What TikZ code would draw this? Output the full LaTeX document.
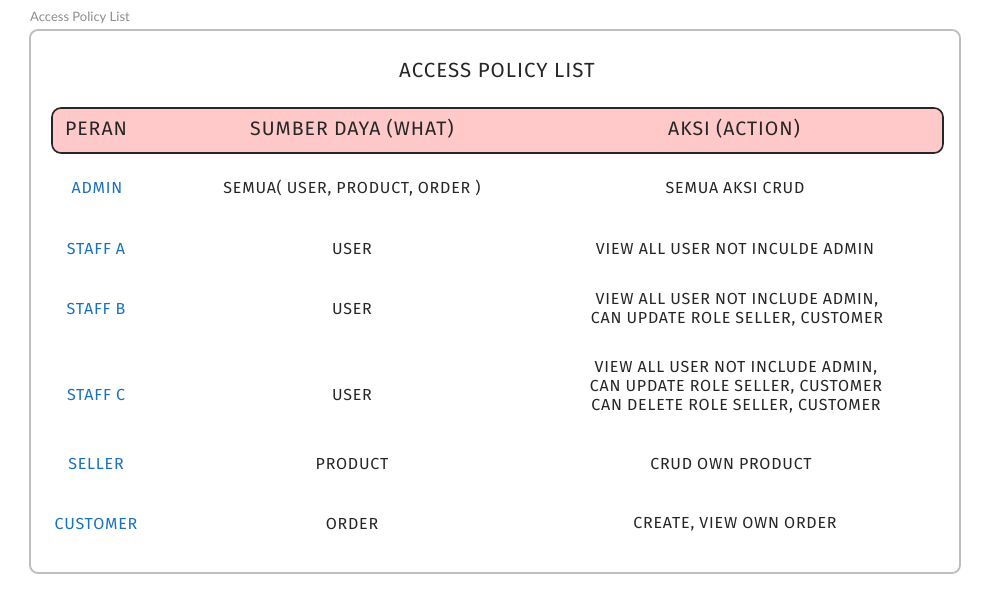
\documentclass[tikz,border=0pt]{standalone}
\usepackage{fontspec}
\setmainfont{Fira Sans}
\newfontfamily\handfont[LetterSpace=5]{Fira Sans}
\newfontfamily\uifont{Lato}
\usepackage{tikz}
\definecolor{framegray}{RGB}{190, 190, 190}
\definecolor{labelgray}{RGB}{140, 140, 140}
\definecolor{headpink}{RGB}{255, 201, 201}
\definecolor{roleblue}{RGB}{25, 113, 194}
\tikzset{
	cell/.style={font=\handfont\fontsize{16}{19}\selectfont, text=black!85, align=center, inner sep=0pt},
	role/.style={cell, text=roleblue},
	head/.style={font=\handfont\fontsize{19.5}{22}\selectfont, text=black!85, inner sep=0pt}
}

\begin{document}
\begin{tikzpicture}[x=1pt, y=-1pt]
			\useasboundingbox (0,0) rectangle (996,602);
			\node[font=\uifont\fontsize{13}{15}\selectfont, text=labelgray, anchor=west, inner sep=0pt] (frametitle) at (30,18) {Access Policy List};
			\draw[framegray, line width=1.8pt, rounded corners=8pt] (30,30) rectangle (960,573);

			\node[head, font=\handfont\fontsize{20.5}{23}\selectfont] (title) at (497,70) {ACCESS POLICY LIST};

			\draw[black!85, line width=1.6pt, fill=headpink, rounded corners=9pt] (52,108) rectangle (943,153);
			\node[head] (hperan) at (96,129) {PERAN};
			\node[head] (hsumber) at (352,129) {SUMBER DAYA (WHAT)};
			\node[head] (haksi) at (734,129) {AKSI (ACTION)};

			% baris peran
			\node[role] (admin) at (97,188) {ADMIN};
			\node[role] (staffa) at (96,249) {STAFF A};
			\node[role] (staffb) at (96,309) {STAFF B};
			\node[role] (staffc) at (96,395) {STAFF C};
			\node[role] (seller) at (96,464) {SELLER};
			\node[role] (customer) at (96,524) {CUSTOMER};

			\node[cell] (resadmin) at (352,188) {SEMUA( USER, PRODUCT, ORDER )};
			\node[cell] (resstaffa) at (352,249) {USER};
			\node[cell] (resstaffb) at (352,309) {USER};
			\node[cell] (resstaffc) at (352,395) {USER};
			\node[cell] (resseller) at (352,464) {PRODUCT};
			\node[cell] (rescustomer) at (352,524) {ORDER};

			\node[cell] (actadmin) at (735,188) {SEMUA AKSI CRUD};
			\node[cell] (actstaffa) at (735,249) {VIEW ALL USER NOT INCULDE ADMIN};
			\node[cell] (actstaffb) at (737,310) {VIEW ALL USER NOT INCLUDE ADMIN,\\CAN UPDATE ROLE SELLER, CUSTOMER};
			\node[cell] (actstaffc) at (736,387) {VIEW ALL USER NOT INCLUDE ADMIN,\\CAN UPDATE ROLE SELLER, CUSTOMER\\CAN DELETE ROLE SELLER, CUSTOMER};
			\node[cell] (actseller) at (731,464) {CRUD OWN PRODUCT};
			\node[cell] (actcustomer) at (735,524) {CREATE, VIEW OWN ORDER};
		\end{tikzpicture}
\end{document}
